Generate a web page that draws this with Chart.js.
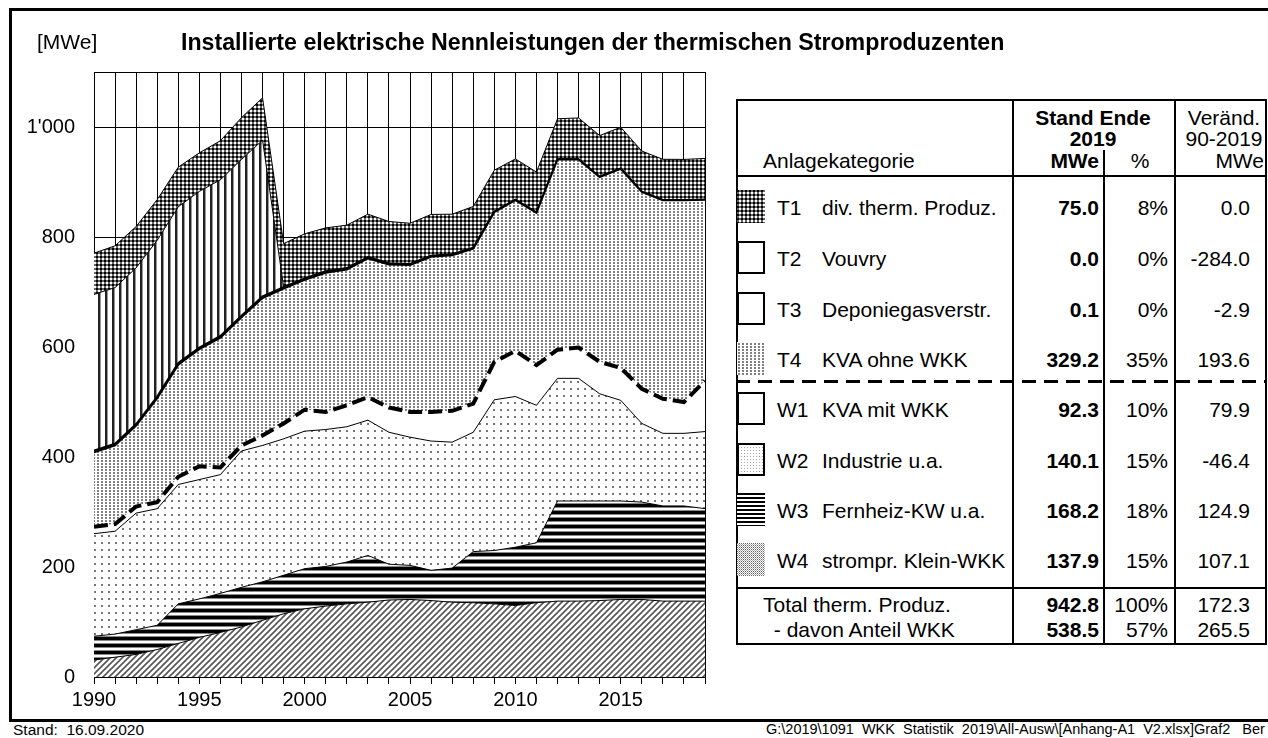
<!DOCTYPE html>
<html>
<head>
<meta charset="utf-8">
<script src="https://cdn.jsdelivr.net/npm/chart.js@4.4.1/dist/chart.umd.min.js"></script>
<style>
  body { margin: 0; width: 1268px; height: 738px; background: #fff; overflow: hidden; position: relative;
         font-family: "Liberation Sans", Arial, sans-serif; color: #000; }
  .t { position: absolute; white-space: pre; line-height: 1; }
  .ln { position: absolute; background: #000; }
  #frame { position: absolute; left: 9px; top: 8px; width: 1300px; height: 708px; border: 3px solid #000; border-right: none; }
  #chartBox { position: absolute; left: 0; top: 0; }
</style>
</head>
<body>
<div id="frame"></div>
<div id="chartBox"><canvas id="wkkChart" width="709" height="720"></canvas></div>
<div class="t" style="left:37px; top:31px; font-size:21px;">[MWe]</div>
<div class="t" style="left:181px; top:31px; font-size:23.2px; font-weight:bold;">Installierte elektrische Nennleistungen der thermischen Stromproduzenten</div>
<div class="t" style="left:13px; top:722px; font-size:15.5px;">Stand:  16.09.2020</div>
<div class="t" style="left:766px; top:722px; font-size:14.5px;">G:\2019\1091  WKK  Statistik  2019\All-Ausw\[Anhang-A1  V2.xlsx]Graf2   Ber</div>
<div id="table"></div>

<script>
// Jahre und Werte (MWe), von unten nach oben gestapelt
const years = [1990, 1991, 1992, 1993, 1994, 1995, 1996, 1997, 1998, 1999,
  2000, 2001, 2002, 2003, 2004, 2005, 2006, 2007, 2008, 2009,
  2010, 2011, 2012, 2013, 2014, 2015, 2016, 2017, 2018, 2019];

const w4 = [30.8, 36, 41, 50, 61, 72, 81, 91, 103, 115, 124, 129, 133, 136, 140, 141, 139, 136, 135, 133, 130, 135, 138, 138, 139, 141, 141, 138, 138, 137.9];
const w3 = [43.3, 42, 45, 44, 72, 70, 71, 72, 70, 70, 73, 72, 76, 85, 65, 62, 55, 62, 93, 97, 106, 109, 182, 182, 181, 179, 177, 173, 173, 168.2];
const w2 = [186.5, 187, 212, 212, 217, 217, 216, 248, 248, 248, 250, 249, 246, 246, 240, 233, 235, 229, 217, 274, 274, 250, 223, 223, 195, 183, 143, 132, 132, 140.1];
const w1 = [12.4, 13, 12, 12, 14, 24, 13, 10, 18, 28, 39, 32, 39, 42, 45, 46, 53, 57, 52, 69, 83, 73, 52, 56, 58, 59, 63, 63, 57, 92.3];
const t4 = [135.6, 143, 147, 189, 204, 213, 236, 233, 250, 245, 236, 253, 247, 252, 260, 267, 282, 283, 282, 272, 274, 277, 346, 342, 336, 362, 358, 361, 367, 329.2];
const t3 = [3.0, 3.0, 3.0, 3.0, 3.0, 3.0, 3.0, 3.0, 3.0, 3.0, 2.8, 2.6, 2.5, 2.5, 2.2, 2.0, 2.0, 1.5, 1.5, 1.5, 1.0, 1.0, 1.0, 0.5, 0.5, 0.5, 0.3, 0.3, 0.1, 0.1];
const t2 = [284, 284, 284, 284, 284, 284, 284, 284, 284, 0, 0, 0, 0, 0, 0, 0, 0, 0, 0, 0, 0, 0, 0, 0, 0, 0, 0, 0, 0, 0];
const t1 = [75.0, 76, 75, 74, 72, 70, 71, 76, 77, 79, 81, 79, 78, 78, 76, 74, 75, 73, 75, 75, 74, 73, 73, 75, 75, 75, 74, 74, 74, 75.0];

// Tabelle rechts
const rowCodes = ["T1", "T2", "T3", "T4", "W1", "W2", "W3", "W4"];
const rowNames = ["div. therm. Produz.", "Vouvry", "Deponiegasverstr.", "KVA ohne WKK",
  "KVA mit WKK", "Industrie u.a.", "Fernheiz-KW u.a.", "strompr. Klein-WKK"];
const rowMWe = ["75.0", "0.0", "0.1", "329.2", "92.3", "140.1", "168.2", "137.9"];
const rowPct = ["8%", "0%", "0%", "35%", "10%", "15%", "18%", "15%"];
const rowChange = ["0.0", "-284.0", "-2.9", "193.6", "79.9", "-46.4", "124.9", "107.1"];
const sumNames = ["Total therm. Produz.", " - davon Anteil WKK"];
const sumMWe = ["942.8", "538.5"];
const sumPct = ["100%", "57%"];
const sumChange = ["172.3", "265.5"];

// Muster
function makeTile(w, h, draw) {
  const c = document.createElement("canvas");
  c.width = w; c.height = h;
  const g = c.getContext("2d");
  g.fillStyle = "#fff";
  g.fillRect(0, 0, w, h);
  draw(g);
  return c;
}
const pctx = document.createElement("canvas").getContext("2d");
const pat = (tile) => pctx.createPattern(tile, "repeat");

const tiles = {
  diag: makeTile(6, 6, (g) => {
    g.strokeStyle = "#555"; g.lineWidth = 1.6;
    g.beginPath();
    g.moveTo(-1, 7); g.lineTo(7, -1);
    g.moveTo(-1, 1); g.lineTo(1, -1);
    g.moveTo(5, 7); g.lineTo(7, 5);
    g.stroke();
  }),
  hstripe: makeTile(1, 7, (g) => {
    g.fillStyle = "#000"; g.fillRect(0, 0, 1, 3);
    g.fillStyle = "#888"; g.fillRect(0, 3, 1, 1); g.fillRect(0, 6, 1, 1);
  }),
  sparse: makeTile(7, 7, (g) => {
    g.fillStyle = "#777"; g.fillRect(3, 3, 2, 2);
  }),
  dense: makeTile(4, 3, (g) => {
    g.fillStyle = "#808080"; g.fillRect(1, 1, 2, 2);
  }),
  vstripe: makeTile(7, 1, (g) => {
    g.fillStyle = "#222"; g.fillRect(0, 0, 2, 1);
    g.fillStyle = "#999"; g.fillRect(2, 0, 1, 1);
  }),
  checker: makeTile(4, 4, (g) => {
    g.fillStyle = "#666"; g.fillRect(0, 0, 4, 4);
    g.fillStyle = "#000"; g.fillRect(0, 0, 2, 2);
    g.fillStyle = "#fff"; g.fillRect(2, 2, 2, 2);
  }),
  stipple: makeTile(2, 2, (g) => {
    g.fillStyle = "#666"; g.fillRect(0, 0, 1, 1);
    g.fillStyle = "#aaa"; g.fillRect(1, 1, 1, 1);
  }),
  fineStripe: makeTile(1, 4, (g) => {
    g.fillStyle = "#000"; g.fillRect(0, 0, 1, 2);
  }),
  fineDots: makeTile(3, 3, (g) => {
    g.fillStyle = "#aaa"; g.fillRect(1, 1, 1, 1);
  }),
  white: makeTile(1, 1, () => {})
};

const pts = (arr) => years.map((y, i) => ({ x: y, y: arr[i] }));
const area = (label, arr, fillPat, first, extra) => Object.assign({
  label: label,
  data: pts(arr),
  backgroundColor: pat(fillPat),
  borderColor: "#000",
  borderWidth: 1,
  pointRadius: 0,
  tension: 0,
  fill: first ? "origin" : "-1"
}, extra || {});

const ctx = document.getElementById("wkkChart").getContext("2d");
new Chart(ctx, {
  type: "line",
  data: {
    datasets: [
      area("W4", w4, tiles.diag, true),
      area("W3", w3, tiles.hstripe),
      area("W2", w2, tiles.sparse),
      area("W1", w1, tiles.white, false, { borderWidth: 4, borderDash: [14, 6] }),
      area("T4", t4, tiles.dense, false, { borderWidth: 2 }),
      area("T3", t3, tiles.white, false, { borderWidth: 2 }),
      area("T2", t2, tiles.vstripe),
      area("T1", t1, tiles.checker)
    ]
  },
  options: {
    responsive: false,
    animation: false,
    layout: { padding: { left: 0, top: 72, right: 4, bottom: 0 } },
    plugins: { legend: { display: false }, tooltip: { enabled: false } },
    scales: {
      x: {
        type: "linear",
        min: 1990,
        max: 2019,
        ticks: {
          stepSize: 1,
          autoSkip: false,
          maxRotation: 0,
          padding: 4,
          color: "#000",
          font: { family: "'Liberation Sans', Arial", size: 20 },
          callback: (v) => (v % 5 === 0 ? String(v) : "")
        },
        grid: { color: "#000", lineWidth: 1, tickLength: 7, tickColor: "#000" },
        border: { color: "#000", width: 1 },
        afterFit: (s) => { s.height = 43; }
      },
      y: {
        stacked: true,
        min: 0,
        max: 1100,
        ticks: {
          stepSize: 200,
          padding: 19,
          color: "#000",
          font: { family: "'Liberation Sans', Arial", size: 20 },
          callback: (v) => (v > 1000 ? "" : v >= 1000 ? "1'" + String(v).slice(1) : String(v))
        },
        grid: { color: "#000", lineWidth: 1, drawTicks: false },
        border: { color: "#000", width: 1 },
        afterFit: (s) => { s.width = 94; }
      }
    }
  }
});

// Tabelle zeichnen
const table = document.getElementById("table");
const FS = 21;
function line(x, y, w, h) {
  const d = document.createElement("div");
  d.className = "ln";
  d.style.cssText = `left:${x}px;top:${y}px;width:${w}px;height:${h}px;`;
  table.appendChild(d);
}
function text(txt, x, cy, align, bold) {
  const d = document.createElement("div");
  d.className = "t";
  d.textContent = txt;
  d.style.fontSize = FS + "px";
  d.style.top = (cy - FS / 2) + "px";
  if (bold) d.style.fontWeight = "bold";
  if (align === "right") d.style.right = (1268 - x) + "px";
  else if (align === "center") { d.style.left = (x - 100) + "px"; d.style.width = "200px"; d.style.textAlign = "center"; }
  else d.style.left = x + "px";
  table.appendChild(d);
}
function swatch(tile, y, border) {
  const c = document.createElement("canvas");
  c.width = 28; c.height = 33;
  c.style.cssText = `position:absolute;left:737px;top:${y}px;`;
  const g = c.getContext("2d");
  g.fillStyle = g.createPattern(tile, "repeat");
  g.fillRect(0, 0, 28, 33);
  if (border) { g.strokeStyle = "#000"; g.lineWidth = 2; g.strokeRect(1, 1, 26, 31); }
  table.appendChild(c);
}

const L = 736, R = 1267, TOP = 99, BOT = 645;
line(L, TOP, R - L, 2);
line(L, BOT - 2, R - L, 2);
line(L, TOP, 2, BOT - TOP);
line(R - 2, TOP, 2, BOT - TOP);
line(1012, TOP, 2, BOT - TOP);
line(1103, 150, 2, BOT - 150);
line(1174, TOP, 2, BOT - TOP);
line(L, 175, R - L, 2);
line(L, 587, R - L, 2);
for (let x = L; x < R; x += 22) line(x, 380, Math.min(14, R - x), 3);

text("Stand Ende", 1093, 117, "center", true);
text("2019", 1093, 138, "center", true);
text("Anlagekategorie", 763, 160, "left");
text("MWe", 1099, 160, "right", true);
text("%", 1140, 160, "center");
text("Veränd.", 1224, 117, "center");
text("90-2019", 1224, 138, "center");
text("MWe", 1264, 160, "right");

const rowY = [207, 258, 309, 359, 409, 460, 510, 560];
const swatchTiles = [tiles.checker, tiles.white, tiles.white, tiles.dense, tiles.white, tiles.fineDots, tiles.fineStripe, tiles.stipple];
const swatchBorder = [false, true, true, false, true, true, false, false];
rowCodes.forEach((code, i) => {
  swatch(swatchTiles[i], rowY[i] - 17, swatchBorder[i]);
  text(code, 777, rowY[i], "left");
  text(rowNames[i], 822, rowY[i], "left");
  text(rowMWe[i], 1099, rowY[i], "right", true);
  text(rowPct[i], 1168, rowY[i], "right");
  text(rowChange[i], 1250, rowY[i], "right");
});
const sumY = [604, 629];
const sumX = [763, 768];
sumNames.forEach((n, i) => {
  text(n, sumX[i], sumY[i], "left");
  text(sumMWe[i], 1099, sumY[i], "right", true);
  text(sumPct[i], 1168, sumY[i], "right");
  text(sumChange[i], 1250, sumY[i], "right");
});
</script>
</body>
</html>
